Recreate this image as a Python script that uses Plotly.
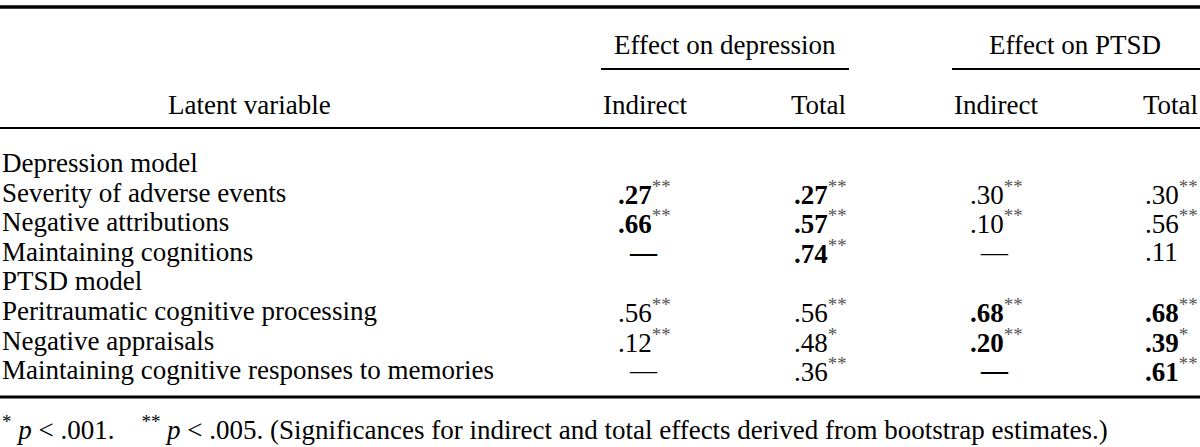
import plotly.graph_objects as go

# ---------------- data ----------------
row_labels = [
    "Depression model",
    "Severity of adverse events",
    "Negative attributions",
    "Maintaining cognitions",
    "PTSD model",
    "Peritraumatic cognitive processing",
    "Negative appraisals",
    "Maintaining cognitive responses to memories",
]
group_headers = ["Effect on depression", "Effect on PTSD"]
sub_headers = ["Indirect", "Total", "Indirect", "Total"]
stub_header = "Latent variable"

dep_indirect = ["", ".27", ".66", "—", "", ".56", ".12", "—"]
dep_indirect_sig = ["", "**", "**", "", "", "**", "**", ""]
dep_indirect_bold = [False, True, True, True, False, False, False, False]

dep_total = ["", ".27", ".57", ".74", "", ".56", ".48", ".36"]
dep_total_sig = ["", "**", "**", "**", "", "**", "*", "**"]
dep_total_bold = [False, True, True, True, False, False, False, False]

ptsd_indirect = ["", ".30", ".10", "—", "", ".68", ".20", "—"]
ptsd_indirect_sig = ["", "**", "**", "", "", "**", "**", ""]
ptsd_indirect_bold = [False, False, False, False, False, True, True, True]

ptsd_total = ["", ".30", ".56", ".11", "", ".68", ".39", ".61"]
ptsd_total_sig = ["", "**", "**", "", "", "**", "*", "**"]
ptsd_total_bold = [False, False, False, False, False, True, True, True]

footnote = ("<sup>*</sup> <i>p</i> &lt; .001.\u00a0\u00a0\u00a0 <sup>**</sup> <i>p</i> &lt; .005. "
            "(Significances for indirect and total effects derived from bootstrap estimates.)")

# ---------------- style / layout ----------------
W, H = 1200, 447
FONT = "Liberation Serif, Times New Roman, serif"
FS = 27
SUPC = "#555555"

row_y0, row_dy = 163, 29.6
val_left = [617, 793, 969, 1144]
val_center = [643, 819, 994, 1170]

fig = go.Figure()
ann = []
shapes = []


def txt(x, y, t, xa="left", size=FS):
    ann.append(dict(x=x, y=y, xref="x", yref="y", text=t, showarrow=False,
                    xanchor=xa, yanchor="middle", borderpad=0,
                    font=dict(family=FONT, size=size, color="black")))


def hline(x0, x1, y, w):
    shapes.append(dict(type="line", xref="x", yref="y", x0=x0, x1=x1, y0=y, y1=y,
                       line=dict(color="black", width=w)))


# rules
hline(0, W, 7, 3.5)
hline(601, 849, 69, 2)
hline(952, W, 69, 2)
hline(0, W, 128, 2)
hline(0, W, 397, 3)

# headers
txt(725, 45, group_headers[0], "center")
txt(1075, 45, group_headers[1], "center")
txt(249, 105, stub_header, "center")
txt(602, 105, sub_headers[0], "left")
txt(847, 105, sub_headers[1], "right")
txt(953, 105, sub_headers[2], "left")
txt(1199, 105, sub_headers[3], "right")

# body
cols = [
    (dep_indirect, dep_indirect_sig, dep_indirect_bold),
    (dep_total, dep_total_sig, dep_total_bold),
    (ptsd_indirect, ptsd_indirect_sig, ptsd_indirect_bold),
    (ptsd_total, ptsd_total_sig, ptsd_total_bold),
]
for i, lab in enumerate(row_labels):
    y = row_y0 + row_dy * i
    txt(1, y, lab, "left")
    for c, (vals, sigs, bolds) in enumerate(cols):
        v = vals[i]
        if not v:
            continue
        t = f"<b>{v}</b>" if bolds[i] else v
        if sigs[i]:
            t += f"<sup><span style='color:{SUPC}'>{sigs[i]}</span></sup>"
        if v == "—":
            txt(val_center[c], y, t, "center")
        else:
            txt(val_left[c], y, t, "left")

txt(1, 428, footnote, "left")

fig.update_layout(
    width=W, height=H,
    margin=dict(l=0, r=0, t=0, b=0),
    paper_bgcolor="white", plot_bgcolor="white",
    xaxis=dict(range=[0, W], visible=False, fixedrange=True),
    yaxis=dict(range=[H, 0], visible=False, fixedrange=True),
    annotations=ann, shapes=shapes, showlegend=False,
)
fig.write_html(
    "out.html",
    config={"displayModeBar": False},
    post_script="document.body.style.margin='0';document.body.style.overflow='hidden';",
)
